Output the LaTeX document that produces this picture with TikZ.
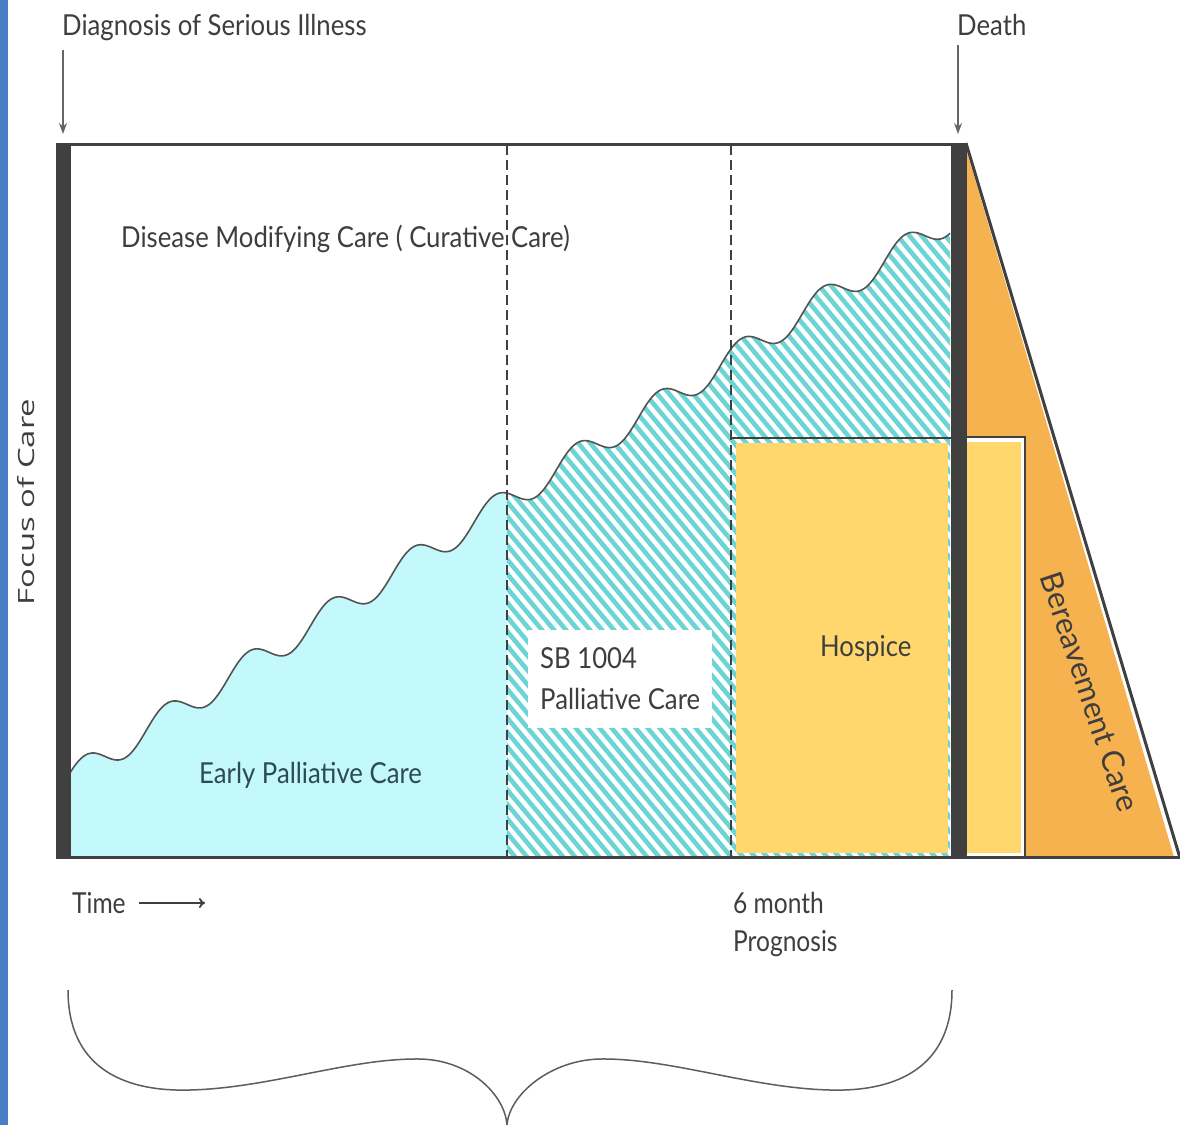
\documentclass[tikz,border=0pt]{standalone}
\usepackage{fontspec}
\usetikzlibrary{arrows.meta}
\setmainfont{Lato}
\newfontfamily\focusfont{Open Sans}
\definecolor{leftblue}{RGB}{74,126,196}
\definecolor{framegray}{RGB}{64,64,64}
\definecolor{txtgray}{RGB}{62,62,62}
\definecolor{earlytxt}{RGB}{45,75,80}
\definecolor{earlycyan}{RGB}{196,249,251}
\definecolor{hatchteal}{RGB}{108,212,212}
\definecolor{hospyellow}{RGB}{255,215,108}
\definecolor{bereavorange}{RGB}{247,178,80}
\begin{document}
\begin{tikzpicture}[x=1bp,y=-1bp,
  declare function={wv(\t)=756.5-0.635*(\t-105.2)+14*sin(4.390244*(\t-105.2));},
  lbl/.style={font=\fontsize{29}{34}\selectfont, text=txtgray, inner sep=0pt, anchor=base west, xscale=0.89},
  narrowlbl/.style={lbl, xscale=0.955},
  frameline/.style={draw=framegray},
  divider/.style={draw=framegray, line width=2bp, dash pattern=on 10bp off 5bp},
  pointer/.style={draw=gray!80!black, line width=1.3bp, -{Stealth[length=11bp,width=8bp]}},
  wavyline/.style={draw=framegray!90, line width=1.6bp},
  hatchstripe/.style={draw=hatchteal, line width=4.6bp},
  bracestroke/.style={draw=framegray!85, line width=1.5bp}
]
\useasboundingbox (0,0) rectangle (1180,1125);
\fill[white] (0,0) rectangle (1180,1125);
\fill[leftblue] (0,0) rectangle (8,1125);

% early palliative care region
\fill[earlycyan] (70,857) -- plot[domain=70:507,samples=200] (\x,{wv(\x)}) -- (507,857) -- cycle;

% hatched region
\begin{scope}
  \clip (507,857) -- plot[domain=507:950,samples=200] (\x,{wv(\x)}) -- (950,857) -- cycle;
  \foreach \k in {-110,-98,...,910} \draw[hatchstripe] (\k,150) -- ++(600,720);
\end{scope}

% SB 1004 box
\fill[white] (528,630) rectangle (712,728);

% hospice
\draw[frameline, line width=2bp] (731,438) -- (951,438);
\fill[hospyellow] (736,443) rectangle (948,853);

% bereavement triangle
\fill[bereavorange] (967,152) -- (1174,857) -- (967,857) -- cycle;
\draw[frameline, line width=3bp] (966,143) -- (1180,858);
\fill[white] (966,436) rectangle (1026,857);
\draw[frameline, line width=1.8bp] (966,437) -- (1025,437) -- (1025,857);
\fill[hospyellow] (967,442) rectangle (1021,853);

% wavy boundary
\draw[wavyline] plot[domain=70:950,samples=400] (\x,{wv(\x)});

% dividers
\draw[divider] (507,145) -- (507,857);
\draw[divider] (731,145) -- (731,857);

% frame
\draw[frameline, line width=3bp] (56,144) -- (966,144);
\draw[frameline, line width=3bp] (56,857.5) -- (1180,857.5);
\fill[framegray] (56,142.5) rectangle (71,859);
\fill[framegray] (951,142.5) rectangle (967,859);

% labels
\node[lbl] (diag) at (62,35) {Diagnosis of Serious Illness};
\node[lbl] (death) at (957,35) {Death};
\coordinate (diagtip) at (63,134);
\coordinate (deathtip) at (958,134);
\draw[pointer] (diag.south west -| diagtip) ++(0,10) -- (diagtip);
\draw[pointer] (death.south west -| deathtip) ++(0,10) -- (deathtip);

\node[lbl] (curative) at (121,247) {Disease Modifying Care ( Curative Care)};
\node[lbl, text=earlytxt] (early) at (199,783) {Early Palliative Care};
\node[lbl] (sb) at (540,668) {SB 1004};
\node[lbl] (sbpal) at (540,709) {Palliative Care};
\node[lbl] (hospice) at (820,656) {Hospice};
\node[font=\fontsize{31}{36}\selectfont, text=txtgray, inner sep=0pt, rotate=-71.5] (bereav) at (1090,692) {Bereavement Care};
\node[font=\focusfont\fontsize{33}{38}\selectfont, text=txtgray, inner sep=0pt, xscale=0.68, rotate=90] (focus) at (26,502) {Focus of Care};

\node[lbl, xscale=0.955] (time) at (72,913) {Time};
\coordinate (timearrowend) at (205,903);
\draw[draw=txtgray, line width=1.8bp, -{To[length=6bp,width=10bp]}] (139,903) -- (timearrowend);
\node[lbl, xscale=0.955] (sixmonth) at (733,913) {6 month};
\node[lbl, xscale=0.955] (prognosis) at (733,951) {Prognosis};

% brace
\draw[bracestroke]
  (68,990) .. controls (68,1065) and (120,1092) .. (190,1090)
  .. controls (270,1088) and (350,1058) .. (420,1059)
  .. controls (470,1060) and (505,1095) .. (507,1125);
\draw[bracestroke]
  (952,990) .. controls (952,1065) and (900,1092) .. (830,1090)
  .. controls (750,1088) and (670,1058) .. (600,1059)
  .. controls (550,1060) and (509,1095) .. (507,1125);
\end{tikzpicture}
\end{document}
